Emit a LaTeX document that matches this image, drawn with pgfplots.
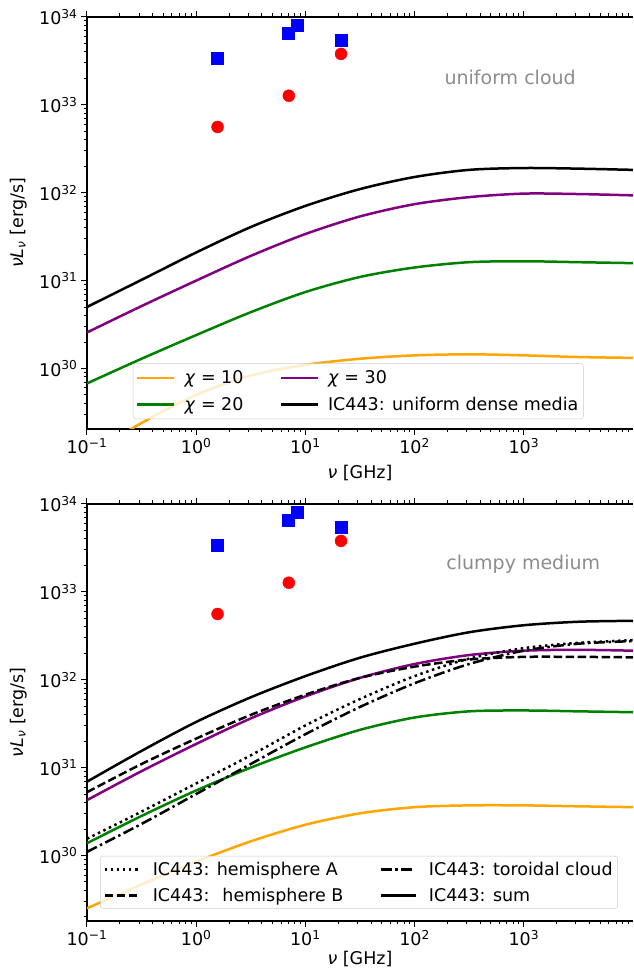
\documentclass[border=0pt]{standalone}
\usepackage{fontspec}
\setmainfont{DejaVu Sans}
\usepackage{pgfplots}
\pgfplotsset{compat=1.18}

\definecolor{mplorange}{RGB}{255,165,0}
\definecolor{mplgreen}{RGB}{0,128,0}
\definecolor{mplpurple}{RGB}{128,0,128}

\newcommand{\nuL}{\textit{ν}\textit{L}\textsubscript{\textit{ν}} [erg/s]}
\newcommand{\decade}{\pgfmathtruncatemacro\e{round(\tick/ln(10))}10\textsuperscript{\ifnum\e<0 −\the\numexpr-\e\relax\else\e\fi}}
\newcommand{\fs}{\fontsize{17.5}{21}\selectfont}

\begin{document}
\begin{tikzpicture}
\useasboundingbox (-87pt,-542pt) rectangle (546pt,429pt);

% ---------- uniform cloud ----------
\begin{axis}[at={(0pt,0pt)}, anchor=south west,
  width=546pt, height=412pt, scale only axis,
  xmode=log, ymode=log,
  xmin=0.1, xmax=1e4, ymin=2.05e29, ymax=1e34,
  axis x line*=box, axis y line*=left,
  xtick={0.1,1,10,100,1000},
  ytick={1e30,1e31,1e32,1e33,1e34},
  minor xtick={0.2,0.3,0.4,0.5,0.6,0.7,0.8,0.9,2,3,4,5,6,7,8,9,20,30,40,50,60,70,80,90,200,300,400,500,600,700,800,900,2000,3000,4000,5000,6000,7000,8000,9000},
  minor ytick={3e29,4e29,5e29,6e29,7e29,8e29,9e29,2e30,3e30,4e30,5e30,6e30,7e30,8e30,9e30,2e31,3e31,4e31,5e31,6e31,7e31,8e31,9e31,2e32,3e32,4e32,5e32,6e32,7e32,8e32,9e32,2e33,3e33,4e33,5e33,6e33,7e33,8e33,9e33},
  tick align=outside,
  major tick length=6pt, minor tick length=3.5pt,
  every tick/.append style={black, line width=1pt},
  axis line style={line width=1.3pt},
  tick label style={font=\fs},
  xticklabel={\decade}, yticklabel={\decade},
  xlabel={\textit{ν} [GHz]}, ylabel={\nuL},
  xlabel style={font=\fs, at={(axis description cs:0.5,-0.107)}, anchor=center},
  ylabel style={font=\fs, at={(axis description cs:-0.126,0.5)}, anchor=center},
  legend columns=2, legend cell align=left,
  legend image code/.code={\draw[#1, line width=2.5pt] (0pt,0pt) -- (37pt,0pt);},
  legend style={at={(0.084,0.024)}, anchor=south west,
    font=\fs, fill=white, fill opacity=0.8,
    text opacity=1, draw=black!20, draw opacity=1, rounded corners=3pt,
    inner xsep=3pt, inner ysep=5pt, row sep=8pt,
    /tikz/every odd column/.append style={column sep=7pt},
    /tikz/every even column/.append style={column sep=34pt}}]
\addplot[only marks, mark=square*, mark size=6pt, color=blue, forget plot] coordinates {
 (1.57,3.36e33) (7.0,6.6e33) (8.4,8.0e33) (21.2,5.4e33)};
\addplot[only marks, mark=*, mark size=6pt, color=red, forget plot] coordinates {
 (1.57,5.6e32) (7.05,1.27e33) (21.2,3.8e33)};
% chi = 10
\addplot[smooth, no marks, line width=2.5pt, mplorange] coordinates {
 (0.1,1.0e29) (0.316,2.40e29) (1,5.01e29) (3.16,8.32e29) (10,1.10e30) (31.6,1.29e30)
 (100,1.41e30) (316,1.45e30) (1000,1.41e30) (3162,1.35e30) (10000,1.32e30)};
% chi = 30
\addplot[smooth, no marks, line width=2.5pt, mplpurple] coordinates {
 (0.1,2.57e30) (0.316,5.13e30) (1,1.0e31) (3.16,1.91e31) (10,3.39e31) (31.6,5.37e31)
 (100,7.41e31) (316,8.91e31) (1000,9.77e31) (3162,9.66e31) (10000,9.33e31)};
% chi = 20
\addplot[smooth, no marks, line width=2.5pt, mplgreen] coordinates {
 (0.1,6.76e29) (0.316,1.29e30) (1,2.40e30) (3.16,4.37e30) (10,7.41e30) (31.6,1.10e31)
 (100,1.41e31) (316,1.62e31) (1000,1.66e31) (3162,1.62e31) (10000,1.58e31)};
% IC443 uniform
\addplot[smooth, no marks, line width=2.5pt, black] coordinates {
 (0.1,5.01e30) (0.316,1.02e31) (1,2.09e31) (3.16,4.07e31) (10,7.08e31) (31.6,1.10e32)
 (100,1.51e32) (316,1.82e32) (1000,1.91e32) (3162,1.88e32) (10000,1.82e32)};
\addlegendentry{\textit{χ} = 10}
\addlegendentry{\textit{χ} = 30}
\addlegendentry{\textit{χ} = 20}
\addlegendentry{IC443: uniform dense media}
\node[text=black!45, font=\fontsize{19}{23}\selectfont] at (rel axis cs:0.775,0.854) {uniform cloud};
\end{axis}

% ---------- clumpy medium ----------
\begin{axis}[at={(0pt,-492pt)}, anchor=south west,
  width=546pt, height=417pt, scale only axis,
  xmode=log, ymode=log,
  xmin=0.1, xmax=1e4, ymin=1.8e29, ymax=1e34,
  axis x line*=box, axis y line*=left,
  xtick={0.1,1,10,100,1000},
  ytick={1e30,1e31,1e32,1e33,1e34},
  minor xtick={0.2,0.3,0.4,0.5,0.6,0.7,0.8,0.9,2,3,4,5,6,7,8,9,20,30,40,50,60,70,80,90,200,300,400,500,600,700,800,900,2000,3000,4000,5000,6000,7000,8000,9000},
  minor ytick={2e29,3e29,4e29,5e29,6e29,7e29,8e29,9e29,2e30,3e30,4e30,5e30,6e30,7e30,8e30,9e30,2e31,3e31,4e31,5e31,6e31,7e31,8e31,9e31,2e32,3e32,4e32,5e32,6e32,7e32,8e32,9e32,2e33,3e33,4e33,5e33,6e33,7e33,8e33,9e33},
  tick align=outside,
  major tick length=6pt, minor tick length=3.5pt,
  every tick/.append style={black, line width=1pt},
  axis line style={line width=1.3pt},
  tick label style={font=\fs},
  xticklabel={\decade}, yticklabel={\decade},
  xlabel={\textit{ν} [GHz]}, ylabel={\nuL},
  xlabel style={font=\fs, at={(axis description cs:0.5,-0.092)}, anchor=center},
  ylabel style={font=\fs, at={(axis description cs:-0.126,0.5)}, anchor=center},
  legend columns=2, legend cell align=left,
  legend image code/.code={\draw[#1, line width=2.5pt] (0pt,0pt) -- (35pt,0pt);},
  legend style={at={(0.024,0.029)}, anchor=south west,
    font=\fs, fill=white, fill opacity=0.8,
    text opacity=1, draw=black!20, draw opacity=1, rounded corners=3pt,
    inner xsep=3pt, inner ysep=4pt, row sep=7pt,
    /tikz/every odd column/.append style={column sep=10pt},
    /tikz/every even column/.append style={column sep=34pt}}]
\addplot[only marks, mark=square*, mark size=6pt, color=blue, forget plot] coordinates {
 (1.57,3.36e33) (7.0,6.6e33) (8.4,8.0e33) (21.2,5.4e33)};
\addplot[only marks, mark=*, mark size=6pt, color=red, forget plot] coordinates {
 (1.57,5.6e32) (7.05,1.27e33) (21.2,3.8e33)};
\addplot[smooth, no marks, line width=2.5pt, mplorange, forget plot] coordinates {
 (0.1,2.51e29) (0.316,4.68e29) (1,8.51e29) (3.16,1.45e30) (10,2.24e30) (31.6,3.02e30)
 (100,3.55e30) (316,3.72e30) (1000,3.72e30) (3162,3.63e30) (10000,3.55e30)};
\addplot[smooth, no marks, line width=2.5pt, mplgreen, forget plot] coordinates {
 (0.1,1.38e30) (0.316,2.82e30) (1,5.50e30) (3.16,1.0e31) (10,1.70e31) (31.6,2.69e31)
 (100,3.72e31) (316,4.37e31) (1000,4.47e31) (3162,4.37e31) (10000,4.27e31)};
\addplot[smooth, no marks, line width=2.5pt, mplpurple, forget plot] coordinates {
 (0.1,4.27e30) (0.316,9.12e30) (1,1.86e31) (3.16,3.63e31) (10,6.46e31) (31.6,1.05e32)
 (100,1.51e32) (316,1.91e32) (1000,2.14e32) (3162,2.19e32) (10000,2.14e32)};
% hemisphere A
\addplot[smooth, no marks, line width=2.5pt, black, dash pattern=on 2.5pt off 3.6pt] coordinates {
 (0.1,1.55e30) (0.316,3.16e30) (1,6.61e30) (3.16,1.38e31) (10,3.02e31) (31.6,6.03e31)
 (100,1.10e32) (316,1.74e32) (1000,2.29e32) (3162,2.63e32) (10000,2.82e32)};
\addlegendentry{IC443: hemisphere A}
% toroidal cloud
\addplot[smooth, no marks, line width=2.5pt, black, dash pattern=on 11pt off 3.5pt on 2.5pt off 3.5pt] coordinates {
 (0.1,1.10e30) (0.316,2.29e30) (1,5.01e30) (3.16,1.10e31) (10,2.40e31) (31.6,4.90e31)
 (100,9.12e31) (316,1.51e32) (1000,2.14e32) (3162,2.57e32) (10000,2.75e32)};
\addlegendentry{IC443: toroidal cloud}
% hemisphere B
\addplot[smooth, no marks, line width=2.5pt, black, dash pattern=on 8.5pt off 3.5pt] coordinates {
 (0.1,5.25e30) (0.316,1.10e31) (1,2.14e31) (3.16,3.98e31) (10,6.76e31) (31.6,1.05e32)
 (100,1.41e32) (316,1.70e32) (1000,1.82e32) (3162,1.82e32) (10000,1.80e32)};
\addlegendentry{IC443: \ hemisphere B}
% sum
\addplot[smooth, no marks, line width=2.5pt, black] coordinates {
 (0.1,6.92e30) (0.316,1.55e31) (1,3.31e31) (3.16,6.31e31) (10,1.10e32) (31.6,1.78e32)
 (100,2.57e32) (316,3.47e32) (1000,4.17e32) (3162,4.57e32) (10000,4.68e32)};
\addlegendentry{IC443: sum}
\node[text=black!45, font=\fontsize{19}{23}\selectfont] at (rel axis cs:0.799,0.856) {clumpy medium};
\end{axis}
\end{tikzpicture}
\end{document}
